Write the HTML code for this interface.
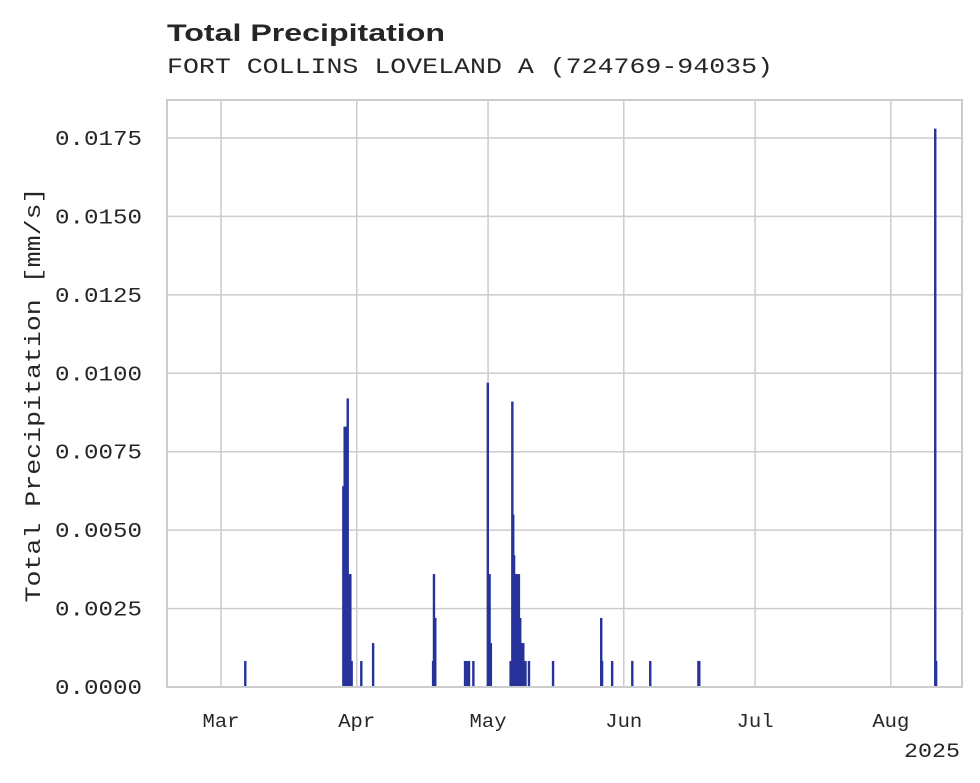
<!DOCTYPE html>
<html><head><meta charset="utf-8"><style>
body{margin:0;background:#fff;}
svg{display:block;}
.t{font-family:"Liberation Mono",monospace;fill:#262626;}
</style></head><body>
<svg id="chart" width="980" height="783" xmlns="http://www.w3.org/2000/svg">
<text x="167" y="41" textLength="278" lengthAdjust="spacingAndGlyphs" style="font-family:'Liberation Sans',sans-serif;font-weight:bold;font-size:24px;fill:#262626">Total Precipitation</text>
<text class="t" x="167" y="73" font-size="22" textLength="606" lengthAdjust="spacingAndGlyphs">FORT COLLINS LOVELAND A (724769-94035)</text>
<g id="grid"></g><g id="bars"></g><g id="axes"></g>
<text class="t" transform="translate(40,395) rotate(-90)" text-anchor="middle" font-size="22" textLength="415" lengthAdjust="spacingAndGlyphs">Total Precipitation [mm/s]</text>
<text class="t" x="960" y="757" text-anchor="end" font-size="20" textLength="56" lengthAdjust="spacingAndGlyphs">2025</text>
</svg>
<script>
// day offsets from Mar 1 (2025)
const days=[5.5,27.9,28.2,28.5,28.9,29.1,29.5,29.8,32,34.7,48.4,48.6,48.9,55.7,56.2,56.6,57.6,60.9,61.3,61.6,66.1,66.5,66.7,66.9,67.3,67.6,68,68.3,68.7,69,69.5,70.3,75.8,86.8,87.0,89.3,93.9,98.0,109.0,109.2,163.1,163.3];
const values=[0.00083,0.0064,0.0083,0.0083,0.0092,0.0036,0.0036,0.00083,0.00083,0.0014,0.00083,0.0036,0.0022,0.00083,0.00083,0.00083,0.00083,0.0097,0.0036,0.0014,0.00083,0.0091,0.0055,0.0042,0.0036,0.0036,0.0036,0.0022,0.0014,0.0014,0.00083,0.00083,0.00083,0.0022,0.00083,0.00083,0.00083,0.00083,0.00083,0.00083,0.0178,0.00083];
const yTicks=[0,0.0025,0.005,0.0075,0.01,0.0125,0.015,0.0175];
const yTickLabels=["0.0000","0.0025","0.0050","0.0075","0.0100","0.0125","0.0150","0.0175"];
const monthDays=[0,31,61,92,122,153];
const monthLabels=["Mar","Apr","May","Jun","Jul","Aug"];
const L=167,R=962,T=100,B=687;
const xS=d=>221+d*4.378;
const yS=v=>B-v/0.0175*(B-138);
const NS="http://www.w3.org/2000/svg";
function mk(tag,attrs,parent){const e=document.createElementNS(NS,tag);for(const k in attrs)e.setAttribute(k,attrs[k]);parent.appendChild(e);return e;}
const grid=document.getElementById('grid'),bars=document.getElementById('bars'),axes=document.getElementById('axes');
yTicks.forEach((v,i)=>{
 const l=mk('line',{x1:L,x2:R,y1:yS(v),y2:yS(v),stroke:'#cccccc','stroke-width':1.5},grid);
 
 
 const t=mk('text',{x:142,y:yS(v)+7,'text-anchor':'end','font-size':21,textLength:87,lengthAdjust:'spacingAndGlyphs',class:'t'},axes);
 t.textContent=yTickLabels[i];
 
 
});
monthDays.forEach((d,i)=>{
 const l=mk('line',{x1:xS(d),x2:xS(d),y1:T,y2:B,stroke:'#cccccc','stroke-width':1.5},grid);
 
 
 const t=mk('text',{x:xS(d),y:727,'text-anchor':'middle','font-size':19,textLength:37,lengthAdjust:'spacingAndGlyphs',class:'t'},axes);
 t.textContent=monthLabels[i];
 
 
});
days.forEach((d,i)=>{
 const y=yS(values[i]);
 const r=mk('rect',{x:xS(d)-1,y:y,width:2.4,height:B-y,fill:'#26339a'},bars);
 
 
});
const f=mk('rect',{x:L,y:T,width:R-L,height:B-T,fill:'none',stroke:'#cccccc','stroke-width':2},axes);


</script>
</body></html>
